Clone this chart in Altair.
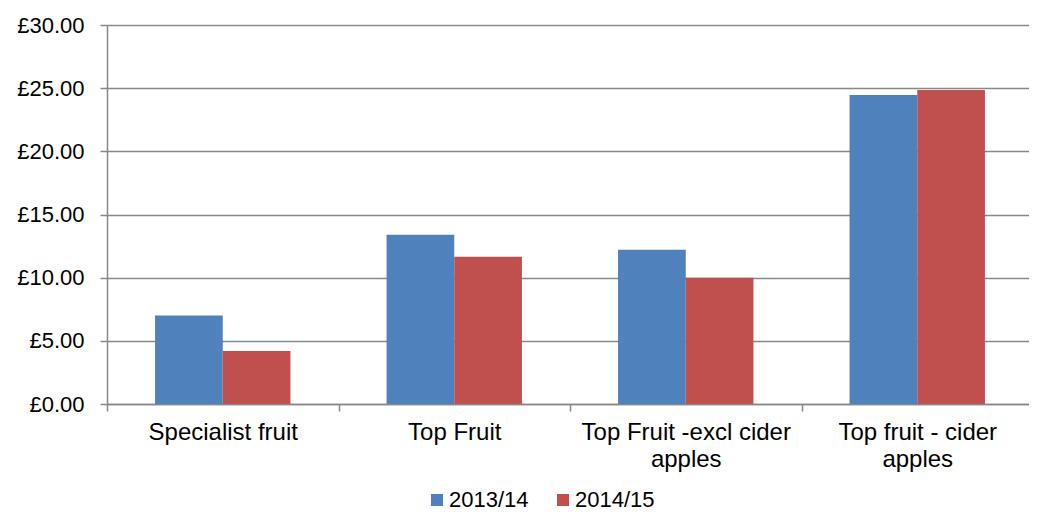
import altair as alt
import pandas as pd

categories = ["Specialist fruit", "Top Fruit", "Top Fruit -excl cider apples", "Top fruit - cider apples"]
series = ["2013/14", "2014/15"]
values_2013 = [7.0, 13.4, 12.2, 24.45]
values_2014 = [4.2, 11.65, 10.0, 24.85]
colors = ["#4F81BD", "#C0504D"]

rows = []
for c, a, b in zip(categories, values_2013, values_2014):
    rows.append({"category": c, "year": series[0], "value": a})
    rows.append({"category": c, "year": series[1], "value": b})
df = pd.DataFrame(rows)

label_expr = (
    "datum.value == 'Top Fruit -excl cider apples' ? ['Top Fruit -excl cider', 'apples'] : "
    "datum.value == 'Top fruit - cider apples' ? ['Top fruit - cider', 'apples'] : datum.label"
)

font = "Liberation Sans"

chart = alt.Chart(df).mark_bar().encode(
    x=alt.X("category:N", sort=categories, title=None,
            scale=alt.Scale(paddingInner=0, paddingOuter=0),
            axis=alt.Axis(labelAngle=0, tickBand="extent", labelExpr=label_expr,
                          labelFont=font, labelFontSize=24, labelColor="black",
                          labelPadding=9, labelLineHeight=27, labelLimit=400,
                          domainColor="#888888", domainWidth=1.5,
                          tickColor="#888888", tickWidth=1.5, tickSize=7, grid=False)),
    xOffset=alt.XOffset("year:N", sort=series,
                        scale=alt.Scale(paddingInner=0, paddingOuter=0.71)),
    y=alt.Y("value:Q", title=None,
            scale=alt.Scale(domain=[0, 30], nice=False),
            axis=alt.Axis(values=[0, 5, 10, 15, 20, 25, 30],
                          labelExpr="'£' + format(datum.value, '.2f')",
                          labelFont=font, labelFontSize=22, labelColor="black",
                          labelPadding=16, tickSize=7, tickColor="#888888", tickWidth=1.5,
                          domainColor="#888888", domainWidth=1.5,
                          gridColor="#888888", gridWidth=1.5)),
    color=alt.Color("year:N", sort=series, title=None,
                    scale=alt.Scale(domain=series, range=colors),
                    legend=alt.Legend(orient="none", legendX=319, legendY=464,
                                      direction="horizontal", symbolType="square",
                                      symbolSize=144, symbolStrokeWidth=0,
                                      labelFont=font, labelFontSize=22, labelColor="black",
                                      labelOffset=1, columnPadding=23)),
).properties(
    width=926, height=379,
    autosize=alt.AutoSizeParams(type="none"),
    padding={"left": 99, "top": 17, "right": -4, "bottom": 108},
).configure_view(strokeWidth=0)

chart.save("out.html", embed_options={"renderer": "svg", "actions": False})
